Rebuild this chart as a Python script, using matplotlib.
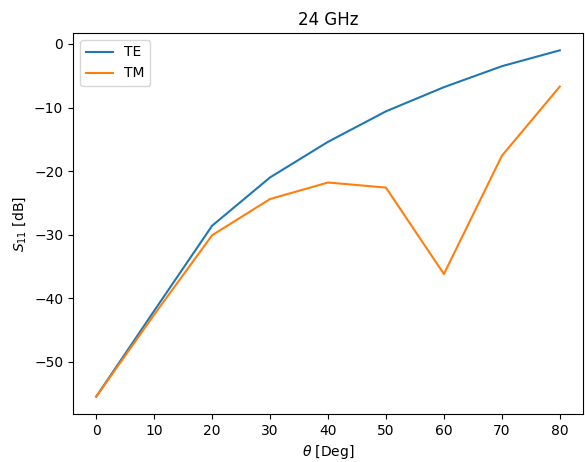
import matplotlib
matplotlib.use("Agg")
import matplotlib.pyplot as plt

theta = [0, 10, 20, 30, 40, 50, 60, 70, 80]
s11_te = [-55.5, -42.0, -28.6, -21.0, -15.4, -10.6, -6.8, -3.5, -1.0]
s11_tm = [-55.5, -42.6, -30.1, -24.4, -21.8, -22.6, -36.2, -17.6, -6.7]

fig = plt.figure(figsize=(5.85, 4.62), dpi=100)
ax = fig.add_axes([73/585, 1-414/462, (583-73)/585, (414-33)/462])
ax.plot(theta, s11_te, label="TE")
ax.plot(theta, s11_tm, label="TM")
ax.set_title("24 GHz")
ax.set_xlabel(r"$\theta$ [Deg]")
ax.set_ylabel(r"$S_{11}$ [dB]")
ax.legend(loc="upper left")
fig.savefig("out.png", dpi=100)
